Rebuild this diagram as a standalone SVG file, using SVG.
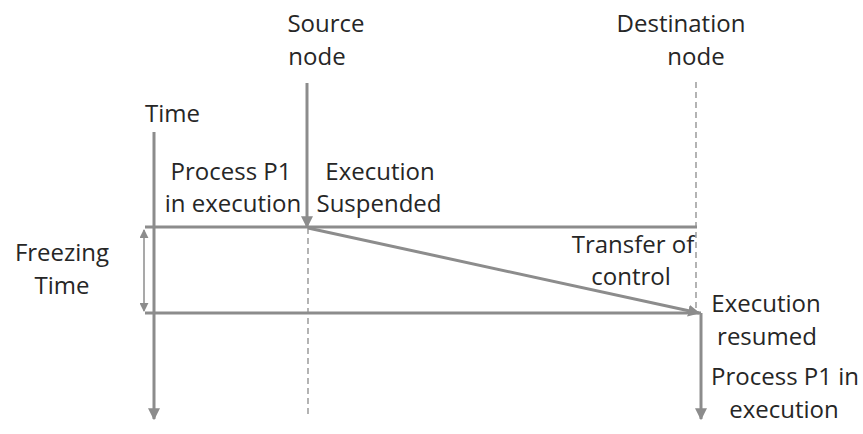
<svg xmlns="http://www.w3.org/2000/svg" width="863" height="434" viewBox="0 0 863 434">
  <style>
    text { font-family: "Open Sans", "Liberation Sans", sans-serif; font-size: 24px; fill: #262626; }
    .c { text-anchor: middle; }
    .line { stroke: #8c8c8c; stroke-width: 3; fill: none; }
    .thin { stroke: #8c8c8c; stroke-width: 1.5; fill: none; }
    .dash { stroke: #8c8c8c; stroke-width: 1.3; stroke-dasharray: 6 4; fill: none; }
  </style>
  <defs>
    <marker id="arrow" viewBox="0 0 10 10" refX="9" refY="5" markerWidth="4" markerHeight="4" orient="auto" markerUnits="strokeWidth">
      <path d="M0,0 L10,5 L0,10 z" fill="#8c8c8c"/>
    </marker>
    <marker id="arrowThin" viewBox="0 0 10 10" refX="9" refY="5" markerWidth="6" markerHeight="6" orient="auto-start-reverse" markerUnits="strokeWidth">
      <path d="M0,0 L10,5 L0,10 z" fill="#8c8c8c"/>
    </marker>
  </defs>

  <rect width="863" height="434" fill="#ffffff"/>

  <g id="connectors">
    <!-- node timelines -->
    <line class="dash" x1="308" y1="228" x2="308" y2="416"/>
    <line class="dash" x1="696" y1="82" x2="696" y2="313"/>
    <!-- time axis -->
    <line class="line" x1="154" y1="132" x2="154" y2="419" marker-end="url(#arrow)"/>
    <!-- source node arrow -->
    <line class="line" x1="307" y1="83" x2="307" y2="227" marker-end="url(#arrow)"/>
    <!-- suspension / resumption levels -->
    <line class="line" x1="145" y1="227" x2="697" y2="227"/>
    <line class="line" x1="145" y1="313" x2="701" y2="313"/>
    <!-- freezing interval -->
    <line class="thin" x1="144" y1="230" x2="144" y2="311" marker-start="url(#arrowThin)" marker-end="url(#arrowThin)"/>
    <!-- transfer of control -->
    <line class="line" x1="308" y1="228" x2="699" y2="313" marker-end="url(#arrow)"/>
    <!-- destination continues -->
    <line class="line" x1="701" y1="313" x2="701" y2="419" marker-end="url(#arrow)"/>
  </g>

  <g id="source-node">
    <text class="c" x="326" y="32">Source</text>
    <text class="c" x="317" y="65">node</text>
  </g>
  <g id="destination-node">
    <text class="c" x="681" y="32">Destination</text>
    <text class="c" x="696" y="65">node</text>
  </g>
  <g id="time-label">
    <text x="145" y="122">Time</text>
  </g>
  <g id="process-running">
    <text class="c" x="231" y="180">Process P1</text>
    <text class="c" x="233" y="212">in execution</text>
  </g>
  <g id="execution-suspended">
    <text class="c" x="380" y="180">Execution</text>
    <text class="c" x="379" y="212">Suspended</text>
  </g>
  <g id="freezing-time">
    <text class="c" x="62" y="261">Freezing</text>
    <text class="c" x="62" y="294">Time</text>
  </g>
  <g id="transfer-of-control">
    <text class="c" x="633" y="253">Transfer of</text>
    <text class="c" x="631" y="285">control</text>
  </g>
  <g id="execution-resumed">
    <text class="c" x="766" y="312">Execution</text>
    <text class="c" x="767" y="345">resumed</text>
  </g>
  <g id="process-resumed">
    <text class="c" x="785" y="385">Process P1 in</text>
    <text class="c" x="784" y="418">execution</text>
  </g>
</svg>
